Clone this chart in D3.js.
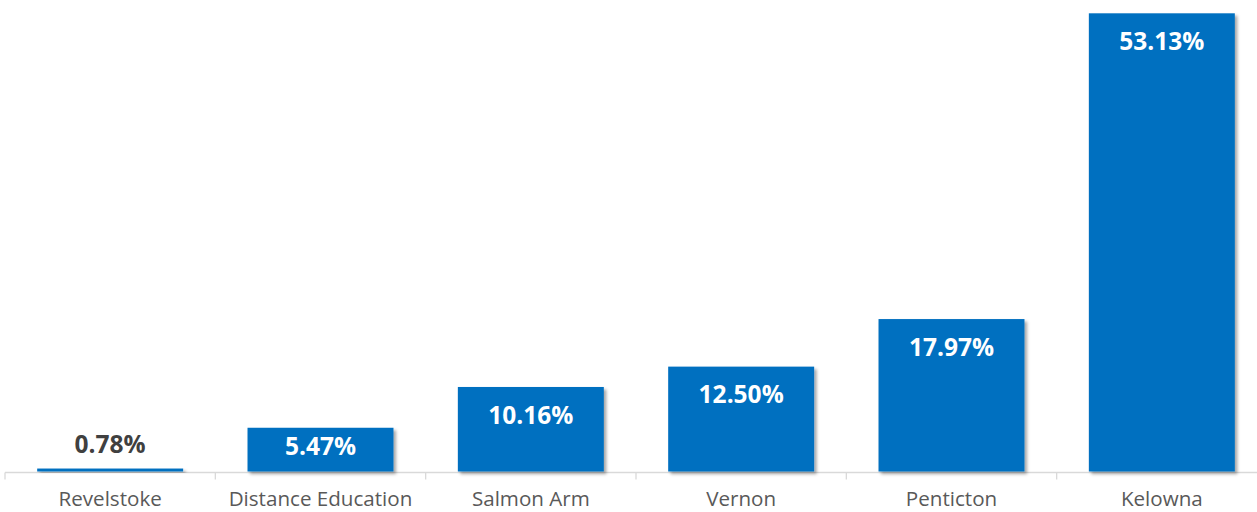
<!DOCTYPE html>
<html>
<head>
<meta charset="utf-8">
<script src="https://cdn.jsdelivr.net/npm/d3@7"></script>
<style>
  html, body { margin: 0; padding: 0; background: #fff; }
  svg { display: block; }
</style>
</head>
<body>
<svg id="chart" width="1257" height="512"></svg>
<script>
// Share of enrolment by campus
const campuses = ["Revelstoke", "Distance Education", "Salmon Arm", "Vernon", "Penticton", "Kelowna"];
const shares = [0.78, 5.47, 10.16, 12.50, 17.97, 53.13];
const shareLabels = ["0.78%", "5.47%", "10.16%", "12.50%", "17.97%", "53.13%"];

const width = 1257, height = 512;
const svg = d3.select("#chart");

const axisY = 471.5;
const x = d3.scaleBand()
  .domain(campuses)
  .range([5, 1267])
  .paddingInner(0.306)
  .paddingOuter(0.153);

const y = d3.scaleLinear()
  .domain([0.44, 54.66])
  .range([axisY, 0]);

// soft drop shadow on bars
const defs = svg.append("defs");
const f = defs.append("filter").attr("id", "shadow")
  .attr("x", "-10%").attr("y", "-10%").attr("width", "130%").attr("height", "130%");
f.append("feDropShadow")
  .attr("dx", 2.5).attr("dy", 2.5).attr("stdDeviation", 1.8)
  .attr("flood-color", "#000").attr("flood-opacity", 0.35);

// category axis
const gx = svg.append("g").attr("transform", `translate(0,${axisY + 1})`);
gx.append("line")
  .attr("x1", 5).attr("x2", 1267)
  .attr("stroke", "#d9d9d9").attr("stroke-width", 1.3);
const step = x.step();
const boundaries = d3.range(campuses.length + 1).map(i => 5 + i * step);
gx.selectAll("line.tick-b").data(boundaries).join("line")
  .attr("class", "tick-b")
  .attr("x1", d => d).attr("x2", d => d)
  .attr("y1", 0).attr("y2", 7)
  .attr("stroke", "#d9d9d9").attr("stroke-width", 1.3);

gx.selectAll("text.cat").data(campuses).join("text")
  .attr("class", "cat")
  .attr("x", d => x(d) + x.bandwidth() / 2)
  .attr("y", 33.5)
  .attr("text-anchor", "middle")
  .attr("font-family", "'Open Sans', sans-serif")
  .attr("font-size", 20.6)
  .attr("fill", "#595959")
  .text(d => d);

// bars
svg.append("g").selectAll("rect").data(campuses).join("rect")
  .attr("x", d => x(d))
  .attr("width", x.bandwidth())
  .attr("y", (d, i) => y(shares[i]))
  .attr("height", (d, i) => axisY - y(shares[i]))
  .attr("fill", "#0070c0")
  .attr("filter", "url(#shadow)");

// value labels: inside the bar end when it is tall enough, above otherwise
const capHalf = 8.7;
svg.append("g").selectAll("text").data(campuses).join("text")
  .attr("x", d => x(d) + x.bandwidth() / 2)
  .attr("y", (d, i) => {
    const top = y(shares[i]);
    const h = axisY - top;
    if (h <= 30) return top - 24 + capHalf;
    const center = Math.min(top + 28, top + h / 2 - 3);
    return center + capHalf;
  })
  .attr("text-anchor", "middle")
  .attr("font-family", "'Open Sans', sans-serif")
  .attr("font-weight", 700)
  .attr("font-size", 24.5)
  .attr("fill", (d, i) => (axisY - y(shares[i])) > 30 ? "#ffffff" : "#404040")
  .text((d, i) => shareLabels[i]);
</script>
</body>
</html>
